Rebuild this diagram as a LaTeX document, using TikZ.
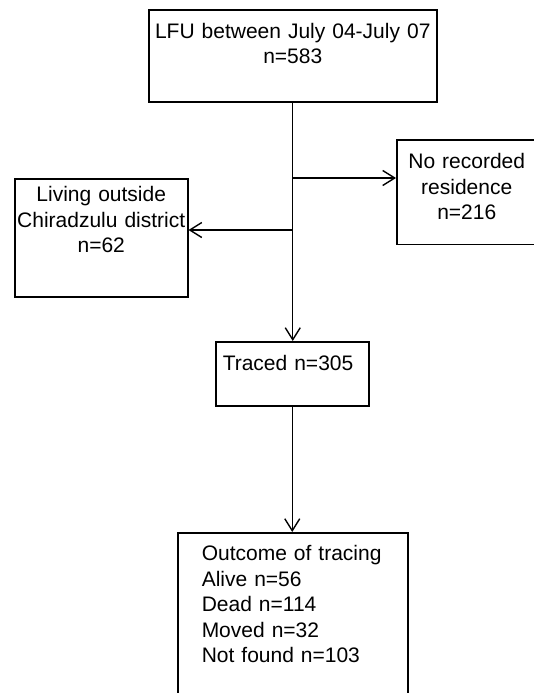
\documentclass[tikz,border=0pt]{standalone}
\usepackage{fontspec}
\setmainfont{Liberation Sans}
\usetikzlibrary{arrows.meta}

\tikzset{
  flowbox/.style={draw, line width=1.5pt, anchor=north west, inner ysep=0pt,
    font=\fontsize{21}{25.5}\selectfont},
  flowarrow/.style={line width=1.4pt, -{Straight Barb[length=12pt,width=15pt]}}
}

\begin{document}
\begin{tikzpicture}[x=1pt,y=-1pt]
\useasboundingbox (0,0) rectangle (534,693);

\node[flowbox, inner xsep=0pt, text width=288pt, align=center,
  text height=28pt, text depth=63.5pt] (lfu) at (148,9.5)
  {LFU between July 04-July 07\\ n=583};
\node[flowbox, inner xsep=0pt, text width=140pt, align=center,
  text height=29pt, text depth=75.5pt] (nores) at (396,139)
  {No recorded\\ residence\\ n=216};
\node[flowbox, inner xsep=0pt, text width=173pt, align=center,
  text height=23pt, text depth=95pt] (outside) at (14,178)
  {Living outside\\ Chiradzulu district\\ n=62};
\node[flowbox, inner xsep=7pt, text width=139pt, align=left,
  text height=29pt, text depth=35pt] (traced) at (215,341)
  {Traced n=305};
\node[flowbox, inner xsep=24pt, text width=182pt, align=left,
  text height=28pt, text depth=140pt] (outcome) at (177,532)
  {Outcome of tracing\\ Alive n=56\\ Dead n=114\\ Moved n=32\\ Not found n=103};

\coordinate (split1) at (292,178);
\coordinate (split2) at (292,230);

\draw[flowarrow] (lfu.south) -- (lfu.south |- traced.north);
\draw[flowarrow] (split1) -- (nores.west |- split1);
\draw[flowarrow] (split2) -- (outside.east |- split2);
\draw[flowarrow] (traced.south) -- (traced.south |- outcome.north);
\end{tikzpicture}
\end{document}
